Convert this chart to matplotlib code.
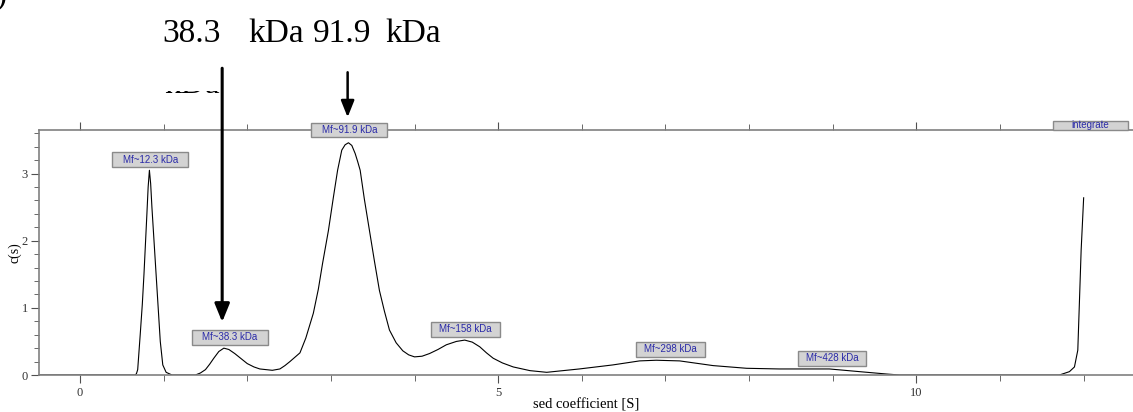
import matplotlib
matplotlib.use('Agg')
import matplotlib.pyplot as plt
from matplotlib.patches import Rectangle
from matplotlib.transforms import Bbox
from matplotlib.ticker import MultipleLocator

# c(s) distribution
sed = [-0.49, 0.60, 0.66, 0.675, 0.69, 0.72, 0.745, 0.765, 0.80, 0.815, 0.83, 0.845, 0.86,
       0.885, 0.91, 0.935, 0.96, 0.99, 1.03, 1.10,
       1.38, 1.44, 1.50, 1.55, 1.60, 1.66, 1.72, 1.78, 1.85, 1.92, 2.00, 2.08, 2.15, 2.30,
       2.39, 2.45, 2.51, 2.63, 2.70, 2.79, 2.85, 2.90, 2.97, 3.03, 3.08, 3.13, 3.17, 3.21,
       3.25, 3.29, 3.32, 3.35, 3.40, 3.46, 3.52, 3.58, 3.64, 3.70, 3.78, 3.86, 3.93, 4.00,
       4.09, 4.18, 4.28, 4.38, 4.50, 4.60, 4.69, 4.78, 4.86, 4.94, 5.05, 5.18, 5.38, 5.58,
       5.97, 6.37, 6.69, 6.89, 7.17, 7.57, 7.97, 8.36, 8.96, 9.32, 9.64, 9.80,
       11.71, 11.83, 11.89, 11.93, 11.95, 11.97, 12.00]
cs = [0.0, 0.0, 0.0, 0.02, 0.08, 0.6, 1.05, 1.5, 2.4, 2.8, 3.05, 2.85, 2.5,
      2.0, 1.5, 1.0, 0.5, 0.15, 0.04, 0.0,
      0.0, 0.03, 0.08, 0.16, 0.25, 0.35, 0.40, 0.38, 0.32, 0.25, 0.17, 0.12, 0.09, 0.07,
      0.09, 0.14, 0.20, 0.33, 0.55, 0.92, 1.28, 1.66, 2.15, 2.65, 3.05, 3.35, 3.43, 3.46,
      3.42, 3.30, 3.18, 3.05, 2.62, 2.16, 1.70, 1.26, 0.95, 0.67, 0.48, 0.36, 0.30, 0.27,
      0.28, 0.32, 0.38, 0.45, 0.50, 0.52, 0.49, 0.42, 0.33, 0.25, 0.18, 0.12, 0.065, 0.04,
      0.09, 0.15, 0.21, 0.22, 0.21, 0.14, 0.10, 0.09, 0.09, 0.05, 0.015, 0.0,
      0.0, 0.05, 0.12, 0.37, 1.11, 1.86, 2.64]

# peak labels (text, box centre x, box centre y)
labels = ['Mf~12.3 kDa', 'Mf~38.3 kDa', 'Mf~91.9 kDa', 'Mf~158 kDa', 'Mf~298 kDa', 'Mf~428 kDa']
lab_x = [0.84, 1.79, 3.22, 4.61, 7.06, 8.99]
lab_y = [3.21, 0.56, 3.65, 0.68, 0.38, 0.25]
lab_w = [0.91, 0.91, 0.91, 0.82, 0.82, 0.82]

fig = plt.figure(figsize=(11.33, 4.12), dpi=100)
ax = fig.add_axes([39/1133, 1-375/412, 1-39/1133, (375-130)/412])

ax.plot(sed, cs, color='black', lw=0.8)
ax.set_xlim(-0.49, 12.59)
ax.set_ylim(0, 3.65)

for s in ['left', 'bottom', 'top']:
    ax.spines[s].set_color('#808080')
    ax.spines[s].set_linewidth(1.2)
ax.spines['right'].set_visible(False)

ax.xaxis.set_major_locator(MultipleLocator(5))
ax.xaxis.set_minor_locator(MultipleLocator(1))
ax.yaxis.set_major_locator(MultipleLocator(1))
ax.yaxis.set_minor_locator(MultipleLocator(0.2))
ax.tick_params(axis='x', which='both', direction='out', top=True, bottom=True,
               color='#505050', labelsize=9, pad=3, labelcolor='#333333')
ax.tick_params(axis='x', which='major', length=6)
ax.tick_params(axis='x', which='minor', length=4)
ax.tick_params(axis='y', which='major', direction='out', length=6, color='#505050',
               labelsize=9, pad=2, labelcolor='#333333')
ax.tick_params(axis='y', which='minor', direction='out', length=3.5, color='#505050')
for t in ax.get_xticklabels() + ax.get_yticklabels():
    t.set_family('Liberation Serif')

ax.set_xlabel('sed coefficient [S]', family='Liberation Serif', fontsize=10.5, labelpad=-1)
ax.set_ylabel('c(s)', family='Liberation Serif', fontsize=10, labelpad=0)

bh = 0.22
for txt, x, y, w in zip(labels, lab_x, lab_y, lab_w):
    ax.add_patch(Rectangle((x - w/2, y - bh/2), w, bh, fc='#d3d3d3', ec='#8a8a8a',
                           lw=1.0, clip_on=False, zorder=5))
    ax.text(x, y, txt, ha='center', va='center', fontsize=7, color='#2a2aa8',
            family='Liberation Sans', clip_on=False, zorder=6)

# integrate button, cut at the top
ax.add_patch(Rectangle((11.63, 3.65), 0.90, 0.14, fc='#d3d3d3', ec='#8a8a8a',
                       lw=1.0, clip_on=False, zorder=5))
ax.text(12.08, 3.73, 'integrate', ha='center', va='center', fontsize=7,
        color='#2a2aa8', family='Liberation Sans', clip_on=False, zorder=6)

# arrows
ax.annotate('', xy=(1.70, 0.79), xytext=(1.70, 4.57), annotation_clip=False,
            arrowprops=dict(arrowstyle='-|>,head_length=1.1,head_width=0.45',
                            color='black', lw=2.2, shrinkA=0, shrinkB=0))
ax.annotate('', xy=(3.20, 3.84), xytext=(3.20, 4.51), annotation_clip=False,
            arrowprops=dict(arrowstyle='-|>,head_length=1.0,head_width=0.4',
                            color='black', lw=1.8, shrinkA=0, shrinkB=0))

# big annotation text above the plot
big = dict(family='Liberation Serif', fontsize=24, va='baseline', color='black')
fig.text(162/1133, 1-42/412, '38.3', **big)
fig.text(248/1133, 1-42/412, 'kDa', **big)
fig.text(313/1133, 1-42/412, '91.9', **big)
fig.text(385/1133, 1-42/412, 'kDa', **big)
fig.text(-4/1133, 1-4/412, ')', **big)

# leftover of a covered caption: only its very bottom shows
cut = fig.text(164/1133, 1-93/412, 'kDa', **big)
cut.set_clip_box(Bbox.from_extents(0, 412-95, 1133, 412-91))
cut.set_clip_on(True)

fig.savefig('out.png', dpi=100)
